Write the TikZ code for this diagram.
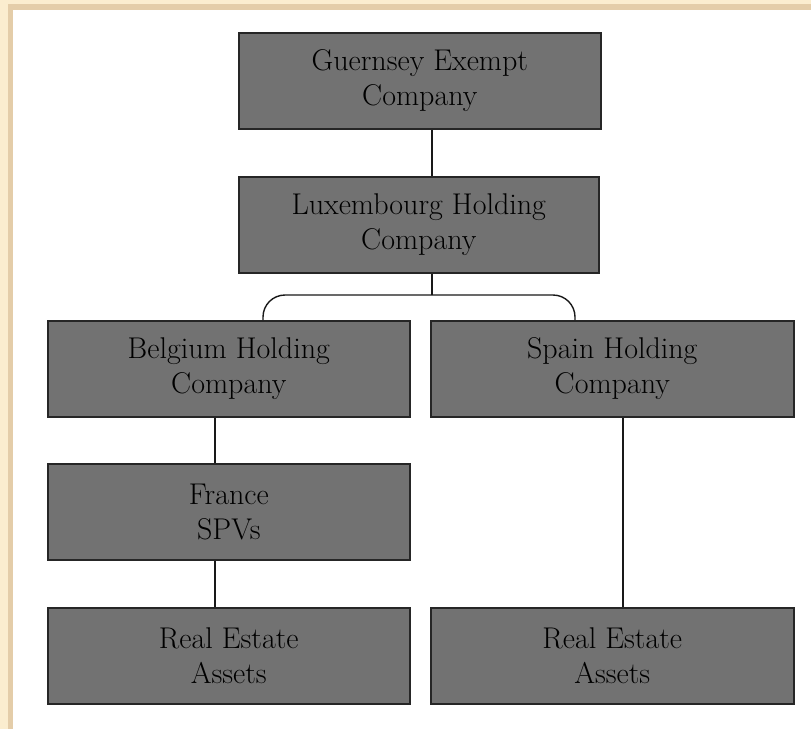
\documentclass[tikz,border=0pt]{standalone}
\usepackage{tikz}
\definecolor{paper}{RGB}{251,237,207}
\definecolor{rim}{RGB}{228,205,169}
\definecolor{boxgrey}{RGB}{114,114,114}
\tikzset{
  entity/.style={draw=black!85, fill=boxgrey, line width=1.6pt, anchor=north west,
    minimum height=96pt, inner sep=0pt, align=center,
    font=\fontsize{30}{35}\selectfont},
  link/.style={draw=black!90, line width=1.4pt}
}
\begin{document}
\begin{tikzpicture}[x=1pt,y=-1pt]
\useasboundingbox (0,0) rectangle (811,729);
% frame
\fill[paper] (0,0) rectangle (811,729);
\fill[rim] (8,4) rectangle (811,729);
\fill[white] (13,10) rectangle (811,729);
% boxes
\node[entity, minimum width=362pt] (guernsey) at (238,32) {Guernsey Exempt\\Company};
\node[entity, minimum width=360pt] (lux) at (238,176) {Luxembourg Holding\\Company};
\node[entity, minimum width=362pt] (belgium) at (47,320) {Belgium Holding\\Company};
\node[entity, minimum width=363pt] (spain) at (430,320) {Spain Holding\\Company};
\node[entity, minimum width=362pt] (france) at (47,463) {France\\SPVs};
\node[entity, minimum width=362pt] (assetsA) at (47,607) {Real Estate\\Assets};
\node[entity, minimum width=363pt] (assetsB) at (430,607) {Real Estate\\Assets};
% connectors
\coordinate (split) at (432,295);
\coordinate (bl) at (263,0);
\coordinate (br) at (575,0);
\coordinate (tg) at (432,0);
\coordinate (tb) at (215,0);
\coordinate (ts) at (623,0);
\draw[link] (guernsey.south -| tg) -- (lux.north -| tg);
\draw[link] (lux.south -| split) -- (split);
\draw[link, rounded corners=22pt] (belgium.north -| bl) |- (split) -| (spain.north -| br);
\draw[link] (belgium.south -| tb) -- (france.north -| tb);
\draw[link] (france.south -| tb) -- (assetsA.north -| tb);
\draw[link] (spain.south -| ts) -- (assetsB.north -| ts);
\end{tikzpicture}
\end{document}
